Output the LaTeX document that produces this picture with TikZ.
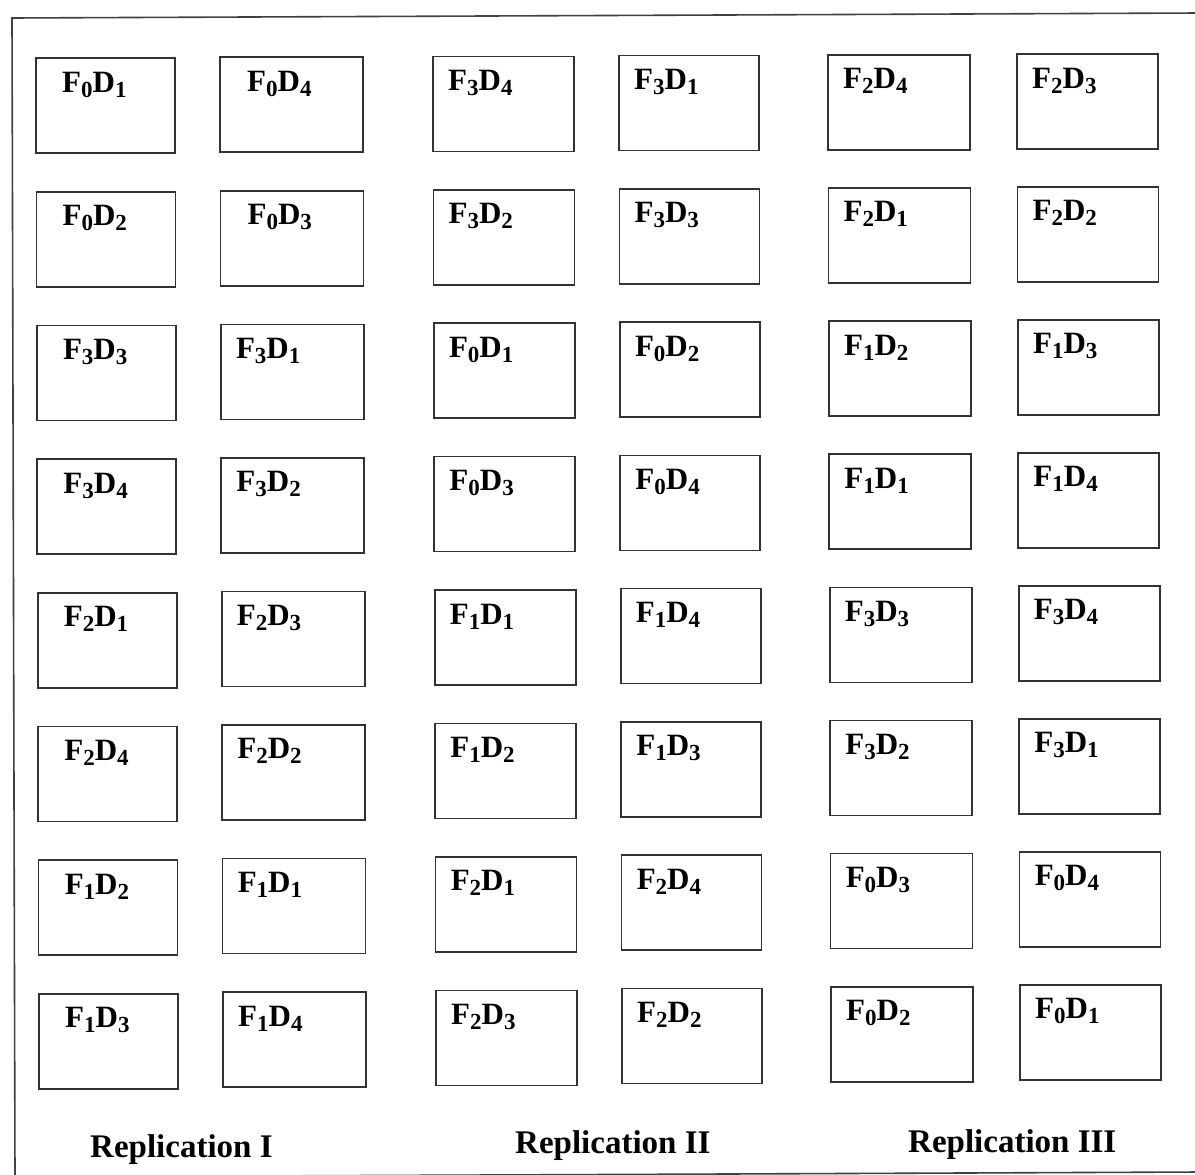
\documentclass[tikz,border=0pt]{standalone}
\usepackage{fontspec}
\setmainfont{Liberation Serif}
\newcommand\subd[1]{\raisebox{-5pt}{\fontsize{23}{23}\selectfont #1}}
\newcommand\fdlab[2]{F\subd{#1}D\subd{#2}}
\tikzset{
  cell/.style={draw=black!80, line width=1.6pt, anchor=north west,
    inner sep=0pt, outer sep=0pt, minimum height=95pt},
  celltext/.style={anchor=base west, inner sep=0pt,
    font=\fontsize{31}{36}\selectfont\bfseries},
  reptext/.style={anchor=base west, inner sep=0pt,
    font=\fontsize{33}{40}\selectfont\bfseries},
  frameline/.style={draw=black!75, line width=1.6pt}
}
\begin{document}
\begin{tikzpicture}[x=1pt,y=-1pt]
\useasboundingbox (0,0) rectangle (1195,1175);
% outer frame
\coordinate (ftl) at (12,18);
\coordinate (fbl) at (15,1177);
\coordinate (ftr) at (1200,13);
\coordinate (fbr) at (1200,1172);
\draw[frameline] (ftr) -- (ftl) -- (fbl) -- (fbr);
% boxes
\foreach \rowlist [count=\r] in {
  {0/1,0/4,3/4,3/1,2/4,2/3},
  {0/2,0/3,3/2,3/3,2/1,2/2},
  {3/3,3/1,0/1,0/2,1/2,1/3},
  {3/4,3/2,0/3,0/4,1/1,1/4},
  {2/1,2/3,1/1,1/4,3/3,3/4},
  {2/4,2/2,1/2,1/3,3/2,3/1},
  {1/2,1/1,2/1,2/4,0/3,0/4},
  {1/3,1/4,2/3,2/2,0/2,0/1}}{
  \foreach \f/\d [count=\c] in \rowlist {
    \pgfmathsetmacro\L{{36,220,433,619,828,1017}[\c-1]}
    \pgfmathsetmacro\W{{139,143,141,140,142,141}[\c-1]}
    \pgfmathsetmacro\X{\L+3*(\r-1)/7}
    \pgfmathsetmacro\Y{58+(\r-1)*133.7-(\c-1)/5*(4+5*(\r-1)/7)}
    \pgfmathsetmacro\off{ifthenelse(\c==1,26,ifthenelse(and(\c==2,\r<3),27,15))}
    \node[cell, minimum width=\W pt] (b-\r-\c) at (\X,\Y) {};
    \node[celltext] (t-\r-\c) at (\X+\off,\Y+34) {\fdlab{\f}{\d}};
  }
}
% replication labels
\node[reptext] (rep1) at (90,1157) {Replication I};
\node[reptext] (rep2) at (515,1153) {Replication II};
\node[reptext] (rep3) at (908,1152) {Replication III};
\end{tikzpicture}
\end{document}
